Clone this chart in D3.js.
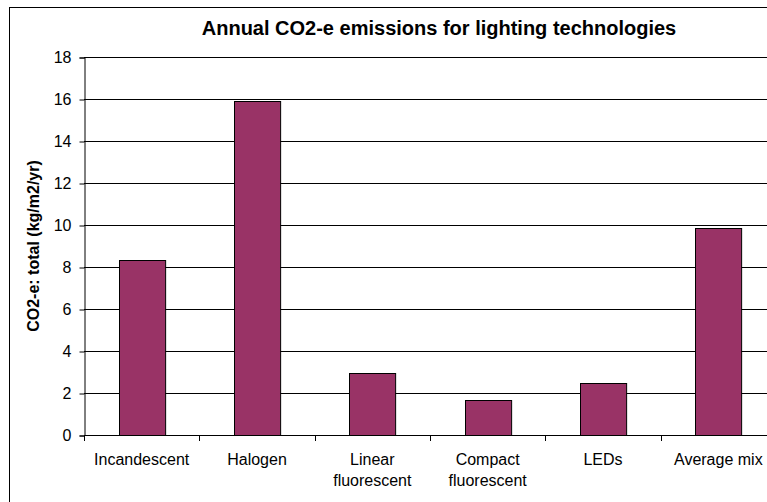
<!DOCTYPE html>
<html>
<head>
<meta charset="utf-8">
<script src="https://cdn.jsdelivr.net/npm/d3@7"></script>
<style>
  html, body { margin: 0; padding: 0; background: #fff; overflow: hidden; }
  svg { display: block; font-family: Arial, "Liberation Sans", sans-serif; }
</style>
</head>
<body>
<svg id="chart" width="767" height="502"></svg>
<script>
// Annual CO2-e emissions per lighting technology (kg/m2/yr)
const categories = [
  ["Incandescent"],
  ["Halogen"],
  ["Linear", "fluorescent"],
  ["Compact", "fluorescent"],
  ["LEDs"],
  ["Average mix"]
];
const emissions = [8.35, 15.9, 2.97, 1.67, 2.5, 9.84];
const yTicks = [0, 2, 4, 6, 8, 10, 12, 14, 16, 18];
const titleText = "Annual CO2-e emissions for lighting technologies";
const yAxisTitle = "CO2-e: total (kg/m2/yr)";

const svg = d3.select("#chart");

// chart frame (runs past the right and bottom edges of the view)
svg.append("rect")
  .attr("x", 9.5).attr("y", 7.5)
  .attr("width", 900).attr("height", 600)
  .attr("fill", "#fff").attr("stroke", "#000").attr("stroke-width", 1);

const plot = { left: 84, right: 776, top: 57, bottom: 435 };

const keys = categories.map(d => d.join(" "));
const x = d3.scaleBand()
  .domain(keys)
  .range([plot.left, plot.right])
  .paddingInner(0.6)
  .paddingOuter(0.3);

const y = d3.scaleLinear()
  .domain([0, 18])
  .range([plot.bottom, plot.top]);

// horizontal gridlines
svg.append("g")
  .selectAll("line")
  .data(yTicks.filter(t => t > 0))
  .join("line")
  .attr("x1", plot.left).attr("x2", plot.right)
  .attr("y1", d => Math.round(y(d)) + 0.5)
  .attr("y2", d => Math.round(y(d)) + 0.5)
  .attr("stroke", "#000").attr("stroke-width", 1);

// bars
svg.append("g")
  .selectAll("rect")
  .data(emissions)
  .join("rect")
  .attr("x", (d, i) => Math.round(x(keys[i])) + 0.5)
  .attr("y", d => Math.round(y(d)) + 0.5)
  .attr("width", x.bandwidth())
  .attr("height", d => Math.round(y(0)) - Math.round(y(d)))
  .attr("fill", "#993366")
  .attr("stroke", "#000").attr("stroke-width", 1);

// y axis
const yAxis = d3.axisLeft(y)
  .tickValues(yTicks)
  .tickSize(5)
  .tickPadding(8)
  .tickFormat(d3.format("d"));
const gy = svg.append("g")
  .attr("transform", `translate(${plot.left + 0.5},0.5)`)
  .call(yAxis);
gy.select(".domain").attr("stroke", "#000");
gy.selectAll(".tick line").attr("stroke", "#000");
gy.selectAll(".tick text")
  .attr("font-size", 16).attr("fill", "#000")
  .attr("font-family", "Arial, 'Liberation Sans', sans-serif");

// x axis: tick marks between categories
const bounds = d3.range(categories.length + 1).map(i => plot.left + i * x.step());
const gx = svg.append("g");
gx.append("line")
  .attr("x1", plot.left).attr("x2", plot.right)
  .attr("y1", Math.round(y(0)) + 0.5).attr("y2", Math.round(y(0)) + 0.5)
  .attr("stroke", "#000");
gx.selectAll("line.tick")
  .data(bounds)
  .join("line")
  .attr("class", "tick")
  .attr("x1", d => Math.round(d) + 0.5).attr("x2", d => Math.round(d) + 0.5)
  .attr("y1", Math.round(y(0))).attr("y2", Math.round(y(0)) + 6)
  .attr("stroke", "#000");

// category labels
const labels = svg.append("g")
  .selectAll("text")
  .data(categories)
  .join("text")
  .attr("x", (d, i) => x(keys[i]) + x.bandwidth() / 2)
  .attr("y", 465)
  .attr("text-anchor", "middle")
  .attr("font-size", 16)
  .attr("fill", "#000");
labels.selectAll("tspan")
  .data(d => d)
  .join("tspan")
  .attr("x", function () { return d3.select(this.parentNode).attr("x"); })
  .attr("dy", (d, i) => i === 0 ? 0 : 21)
  .text(d => d);

// title
svg.append("text")
  .attr("x", 439).attr("y", 35)
  .attr("text-anchor", "middle")
  .attr("font-size", 20).attr("font-weight", "bold")
  .attr("fill", "#000")
  .text(titleText);

// y axis title
svg.append("text")
  .attr("transform", `translate(39,${(plot.top + plot.bottom) / 2}) rotate(-90)`)
  .attr("text-anchor", "middle")
  .attr("font-size", 16).attr("font-weight", "bold")
  .attr("fill", "#000")
  .text(yAxisTitle);
</script>
</body>
</html>
